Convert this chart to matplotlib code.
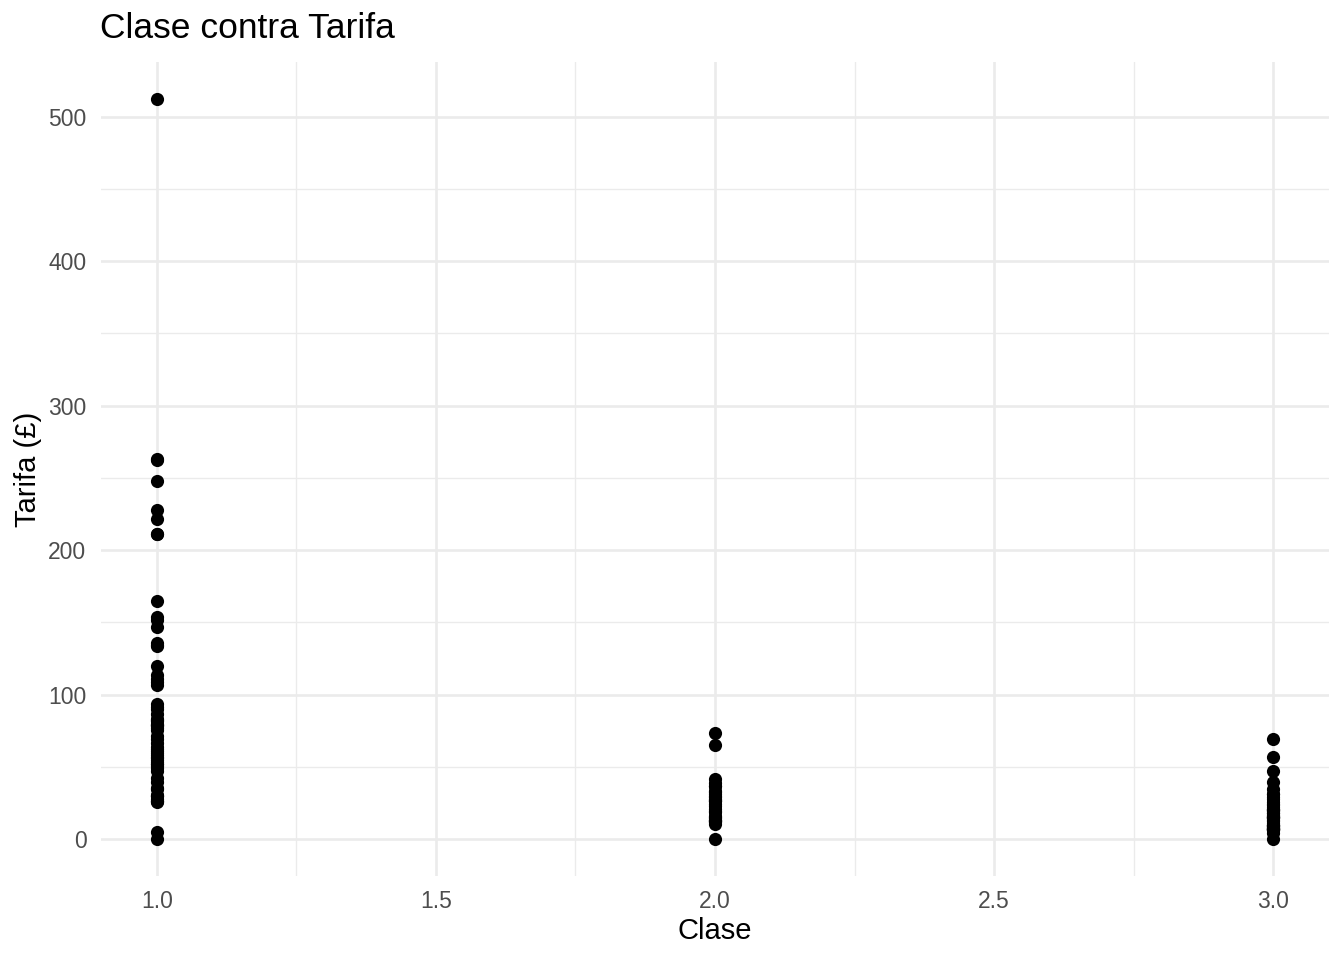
import numpy as np
import matplotlib
matplotlib.use('Agg')
import matplotlib.pyplot as plt
from matplotlib.ticker import MultipleLocator

plt.rcParams['font.family'] = ['Liberation Sans', 'DejaVu Sans']

# tarifas por clase
tarifa_clase1 = [512.33, 263.0, 262.38, 247.52, 227.53, 221.78, 211.5, 211.34,
                 164.87, 153.46, 151.55, 146.52, 135.63, 134.5, 133.65, 120.0,
                 113.28, 110.88, 108.9, 106.43, 93.5, 91.08, 90.0, 86.5, 83.16,
                 82.17, 81.86, 79.65, 79.2, 78.85, 77.96, 76.73, 75.25, 71.28,
                 69.3, 66.6, 63.36, 61.98, 61.18, 59.4, 57.98, 56.93, 55.9, 55.0,
                 53.1, 52.0, 51.86, 50.5, 49.5, 47.1, 42.4, 39.6, 35.5, 34.65,
                 30.5, 30.0, 29.7, 27.72, 26.55, 26.0, 25.93, 5.0, 0.0]
tarifa_clase2 = [73.5, 65.0, 41.58, 39.0, 37.0, 36.75, 33.0, 32.5, 31.5, 30.0,
                 29.0, 27.72, 27.0, 26.25, 26.0, 24.0, 23.0, 21.0, 19.5, 18.75,
                 15.75, 15.0, 14.5, 13.5, 13.0, 12.65, 12.35, 11.5, 10.5, 0.0]
tarifa_clase3 = [69.55, 56.5, 46.9, 39.69, 34.38, 31.39, 31.28, 29.13, 27.9,
                 25.47, 24.15, 23.45, 22.03, 21.08, 20.58, 20.25, 20.21, 19.26,
                 18.0, 17.8, 16.7, 16.1, 15.5, 15.25, 15.1, 14.5, 14.45, 13.42,
                 12.48, 11.24, 9.84, 9.5, 9.35, 9.23, 8.66, 8.05, 7.93, 7.75,
                 7.25, 7.05, 6.98, 6.95, 6.5, 6.24, 4.01, 0.0]
clases = [1, 2, 3]

x = np.concatenate([np.full(len(t), c, dtype=float) for c, t in
                    zip(clases, [tarifa_clase1, tarifa_clase2, tarifa_clase3])])
y = np.concatenate([tarifa_clase1, tarifa_clase2, tarifa_clase3])

fig = plt.figure(figsize=(13.44, 9.6), dpi=100)
ax = fig.add_axes([101 / 1344, 84 / 960, 1228 / 1344, 814 / 960])

ax.scatter(x, y, s=90, color='black', linewidths=0, zorder=3)

ymax = y.max()
ax.set_xlim(0.9, 3.1)
ax.set_ylim(-0.05 * ymax, ymax * 1.05)

ax.xaxis.set_major_locator(MultipleLocator(0.5))
ax.xaxis.set_minor_locator(MultipleLocator(0.25))
ax.yaxis.set_major_locator(MultipleLocator(100))
ax.yaxis.set_minor_locator(MultipleLocator(50))
ax.xaxis.set_major_formatter(plt.FormatStrFormatter('%.1f'))

# rejilla estilo theme_minimal
ax.grid(which='major', color='#EBEBEB', linewidth=1.9)
ax.grid(which='minor', color='#EBEBEB', linewidth=0.95)
ax.set_axisbelow(True)
for s in ax.spines.values():
    s.set_visible(False)
ax.tick_params(which='both', length=0, labelsize=16.5, labelcolor='#4D4D4D')
ax.tick_params(axis='x', pad=10)
ax.tick_params(axis='y', pad=10.5)

ax.set_xlabel('Clase', fontsize=21, color='black')
ax.xaxis.label.set_va('center')
ax.xaxis.set_label_coords(0.5, -55 / 814)
ax.set_ylabel('Tarifa (£)', fontsize=21, color='black')
ax.yaxis.label.set_va('center')
ax.yaxis.set_label_coords(-73 / 1228, 0.5)

fig.text(100 / 1344, 1 - 28 / 960, 'Clase contra Tarifa', fontsize=25.5,
         ha='left', va='center')

fig.savefig('out.png', dpi=100, facecolor='white')
